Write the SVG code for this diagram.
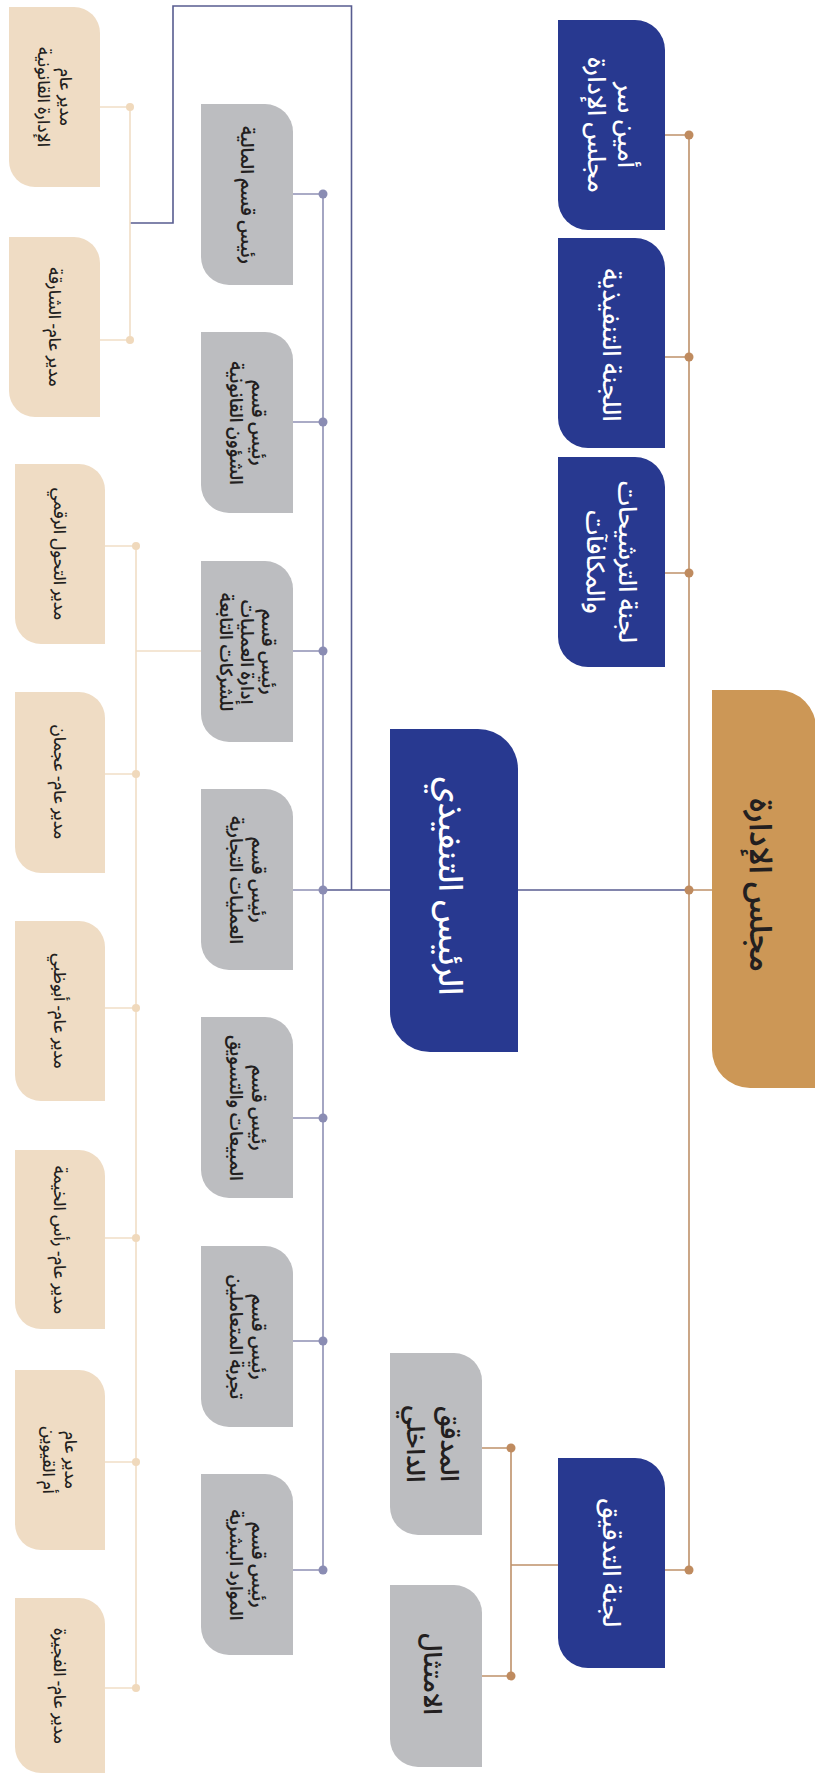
<svg xmlns="http://www.w3.org/2000/svg" width="815" height="1773" viewBox="0 0 815 1773">
<style>
.t{font-family:"Noto Sans Arabic","DejaVu Sans",sans-serif;text-anchor:middle;dominant-baseline:central}
.navy{fill:#283990}
.gold{fill:#CC9756}
.gray{fill:#BCBDC0}
.beige{fill:#EFDCC4}
.wt{fill:#FFFFFF;font-weight:500;font-size:25px}
.bt{fill:#231F20;font-weight:600;font-size:18px}
.lt{fill:#231F20;font-weight:500;font-size:17px}
.lg{fill:none;stroke:#BE916A;stroke-width:1.6}
.lp{fill:none;stroke:#8E90B4;stroke-width:1.6}
.ln{fill:none;stroke:#585C90;stroke-width:1.6}
.lb{fill:none;stroke:#F1DEC6;stroke-width:1.6}
.dg{fill:#BF8B5F}
.dp{fill:#8A8CB3}
.db{fill:#F0D9BC}
</style>
<g id="connectors">
  <path class="lg" d="M689 135 V1570 M665 135 H689 M665 357 H689 M665 573 H689 M665 1570 H689 M689 890 H712"/>
  <path class="ln" d="M518 890 H689"/>
  <circle class="dg" cx="689" cy="135" r="4.5"/>
  <circle class="dg" cx="689" cy="357" r="4.5"/>
  <circle class="dg" cx="689" cy="573" r="4.5"/>
  <circle class="dg" cx="689" cy="890" r="4.5"/>
  <circle class="dg" cx="689" cy="1570" r="4.5"/>
  <path class="lg" d="M558 1565 H511 M511 1448 V1676 M482 1448 H511 M482 1676 H511"/>
  <circle class="dg" cx="511" cy="1448" r="4.5"/>
  <circle class="dg" cx="511" cy="1676" r="4.5"/>
  <path class="ln" d="M390 890 H323 M351.5 890 V6 H173 V223 H130"/>
  <path class="lp" d="M323 194 V1570 M293 194 H323 M293 422 H323 M293 651 H323 M293 890 H323 M293 1118 H323 M293 1341 H323 M293 1570 H323"/>
  <circle class="dp" cx="323" cy="194" r="4.5"/>
  <circle class="dp" cx="323" cy="422" r="4.5"/>
  <circle class="dp" cx="323" cy="651" r="4.5"/>
  <circle class="dp" cx="323" cy="890" r="4.5"/>
  <circle class="dp" cx="323" cy="1118" r="4.5"/>
  <circle class="dp" cx="323" cy="1341" r="4.5"/>
  <circle class="dp" cx="323" cy="1570" r="4.5"/>
  <path class="lb" d="M130 107 V340 M100 107 H130 M100 340 H130"/>
  <circle class="db" cx="130" cy="107" r="4"/>
  <circle class="db" cx="130" cy="340" r="4"/>
  <path class="lb" d="M136 546 V1688 M136 651 H201 M105 546 H136 M105 774 H136 M105 1008 H136 M105 1238 H136 M105 1462 H136 M105 1688 H136"/>
  <circle class="db" cx="136" cy="546" r="4"/>
  <circle class="db" cx="136" cy="774" r="4"/>
  <circle class="db" cx="136" cy="1008" r="4"/>
  <circle class="db" cx="136" cy="1238" r="4"/>
  <circle class="db" cx="136" cy="1462" r="4"/>
  <circle class="db" cx="136" cy="1688" r="4"/>
</g>
<g id="board">
  <path class="gold" d="M712 690 H778 A38 38 0 0 1 816 728 V1088 H750 A38 38 0 0 1 712 1050 Z"/>
  <text class="t" transform="translate(760 885) rotate(90)" style="fill:#231F20;font-weight:600;font-size:31px">مجلس الإدارة</text>
</g>
<g id="secretary">
  <path class="navy" d="M558 20 H635 A30 30 0 0 1 665 50 V230 H588 A30 30 0 0 1 558 200 Z"/>
  <text class="t wt" transform="translate(611 125) rotate(90)"><tspan x="0" y="-15">أمين سر</tspan><tspan x="0" y="15">مجلس الإدارة</tspan></text>
</g>
<g id="executive-committee">
  <path class="navy" d="M558 238 H635 A30 30 0 0 1 665 268 V448 H588 A30 30 0 0 1 558 418 Z"/>
  <text class="t wt" transform="translate(611 345) rotate(90)">اللجنة التنفيذية</text>
</g>
<g id="nomination-committee">
  <path class="navy" d="M558 457 H635 A30 30 0 0 1 665 487 V667 H588 A30 30 0 0 1 558 637 Z"/>
  <text class="t wt" transform="translate(611 562) rotate(90)"><tspan x="0" y="-16">لجنة الترشيحات</tspan><tspan x="0" y="16">والمكافآت</tspan></text>
</g>
<g id="audit-committee">
  <path class="navy" d="M558 1458 H635 A30 30 0 0 1 665 1488 V1668 H588 A30 30 0 0 1 558 1638 Z"/>
  <text class="t wt" transform="translate(611 1563) rotate(90)">لجنة التدقيق</text>
</g>
<g id="ceo">
  <path class="navy" d="M390 729 H478 A40 40 0 0 1 518 769 V1052 H430 A40 40 0 0 1 390 1012 Z"/>
  <text class="t" transform="translate(449 886) rotate(90)" style="fill:#FFFFFF;font-weight:500;font-size:33px">الرئيس التنفيذي</text>
</g>
<g id="internal-auditor">
  <path class="gray" d="M390 1353 H454 A28 28 0 0 1 482 1381 V1535 H418 A28 28 0 0 1 390 1507 Z"/>
  <text class="t" transform="translate(432 1444) rotate(90)" style="fill:#231F20;font-weight:600;font-size:25px"><tspan x="0" y="-17">المدقق</tspan><tspan x="0" y="17">الداخلي</tspan></text>
</g>
<g id="compliance">
  <path class="gray" d="M390 1585 H454 A28 28 0 0 1 482 1613 V1767 H418 A28 28 0 0 1 390 1739 Z"/>
  <text class="t" transform="translate(432 1674) rotate(90)" style="fill:#231F20;font-weight:600;font-size:25px">الامتثال</text>
</g>
<g id="dept-finance">
  <path class="gray" d="M201 104 H265 A28 28 0 0 1 293 132 V285 H229 A28 28 0 0 1 201 257 Z"/>
  <text class="t bt" transform="translate(247 195) rotate(90)">رئيس قسم المالية</text>
</g>
<g id="dept-legal">
  <path class="gray" d="M201 332 H265 A28 28 0 0 1 293 360 V513 H229 A28 28 0 0 1 201 485 Z"/>
  <text class="t bt" transform="translate(247 423) rotate(90)"><tspan x="0" y="-11">رئيس قسم</tspan><tspan x="0" y="11">الشؤون القانونية</tspan></text>
</g>
<g id="dept-subsidiaries">
  <path class="gray" d="M201 561 H265 A28 28 0 0 1 293 589 V742 H229 A28 28 0 0 1 201 714 Z"/>
  <text class="t bt" transform="translate(247 652) rotate(90)"><tspan x="0" y="-21">رئيس قسم</tspan><tspan x="0" y="0">إدارة العمليات</tspan><tspan x="0" y="21">للشركات التابعة</tspan></text>
</g>
<g id="dept-commercial">
  <path class="gray" d="M201 789 H265 A28 28 0 0 1 293 817 V970 H229 A28 28 0 0 1 201 942 Z"/>
  <text class="t bt" transform="translate(247 880) rotate(90)"><tspan x="0" y="-11">رئيس قسم</tspan><tspan x="0" y="11">العمليات التجارية</tspan></text>
</g>
<g id="dept-sales">
  <path class="gray" d="M201 1017 H265 A28 28 0 0 1 293 1045 V1198 H229 A28 28 0 0 1 201 1170 Z"/>
  <text class="t bt" transform="translate(247 1108) rotate(90)"><tspan x="0" y="-11">رئيس قسم</tspan><tspan x="0" y="11">المبيعات والتسويق</tspan></text>
</g>
<g id="dept-customer">
  <path class="gray" d="M201 1246 H265 A28 28 0 0 1 293 1274 V1427 H229 A28 28 0 0 1 201 1399 Z"/>
  <text class="t bt" transform="translate(247 1337) rotate(90)"><tspan x="0" y="-11">رئيس قسم</tspan><tspan x="0" y="11">تجربة المتعاملين</tspan></text>
</g>
<g id="dept-hr">
  <path class="gray" d="M201 1474 H265 A28 28 0 0 1 293 1502 V1655 H229 A28 28 0 0 1 201 1627 Z"/>
  <text class="t bt" transform="translate(247 1565) rotate(90)"><tspan x="0" y="-11">رئيس قسم</tspan><tspan x="0" y="11">الموارد البشرية</tspan></text>
</g>
<g id="gm-1">
  <path class="beige" d="M9 7 H74 A26 26 0 0 1 100 33 V187 H35 A26 26 0 0 1 9 161 Z"/>
  <text class="t lt" transform="translate(54 97) rotate(90)"><tspan x="0" y="-11">مدير عام</tspan><tspan x="0" y="11">الإدارة القانونية</tspan></text>
</g>
<g id="gm-2">
  <path class="beige" d="M9 237 H74 A26 26 0 0 1 100 263 V417 H35 A26 26 0 0 1 9 391 Z"/>
  <text class="t lt" transform="translate(54 327) rotate(90)">مدير عام- الشارقة</text>
</g>
<g id="gm-3">
  <path class="beige" d="M15 464 H79 A26 26 0 0 1 105 490 V644 H41 A26 26 0 0 1 15 618 Z"/>
  <text class="t lt" transform="translate(59 554) rotate(90)">مدير التحول الرقمي</text>
</g>
<g id="gm-4">
  <path class="beige" d="M15 692 H79 A26 26 0 0 1 105 718 V873 H41 A26 26 0 0 1 15 847 Z"/>
  <text class="t lt" transform="translate(59 782) rotate(90)">مدير عام- عجمان</text>
</g>
<g id="gm-5">
  <path class="beige" d="M15 921 H79 A26 26 0 0 1 105 947 V1101 H41 A26 26 0 0 1 15 1075 Z"/>
  <text class="t lt" transform="translate(59 1011) rotate(90)">مدير عام- أبوظبي</text>
</g>
<g id="gm-6">
  <path class="beige" d="M15 1150 H79 A26 26 0 0 1 105 1176 V1329 H41 A26 26 0 0 1 15 1303 Z"/>
  <text class="t lt" transform="translate(59 1240) rotate(90)">مدير عام- رأس الخيمة</text>
</g>
<g id="gm-7">
  <path class="beige" d="M15 1370 H79 A26 26 0 0 1 105 1396 V1550 H41 A26 26 0 0 1 15 1524 Z"/>
  <text class="t lt" transform="translate(59 1460) rotate(90)"><tspan x="0" y="-11">مدير عام</tspan><tspan x="0" y="11">أم القيوين</tspan></text>
</g>
<g id="gm-8">
  <path class="beige" d="M15 1598 H79 A26 26 0 0 1 105 1624 V1773 H41 A26 26 0 0 1 15 1747 Z"/>
  <text class="t lt" transform="translate(59 1686) rotate(90)">مدير عام- الفجيرة</text>
</g>
</svg>
